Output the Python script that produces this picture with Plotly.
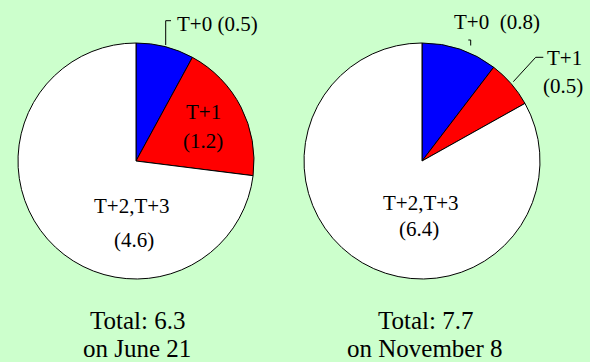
import plotly.graph_objects as go

# Share of settlement volume by settlement cycle (two survey dates)
categories = ["T+0", "T+1", "T+2,T+3"]
june_values = [0.5, 1.2, 4.6]
november_values = [0.8, 0.5, 6.4]
june_total = 6.3
november_total = 7.7
dates = ["June 21", "November 8"]
slice_colors = ["#0000ff", "#ff0000", "#ffffff"]

W, H = 590, 362
BG = "#ccffcc"
FONT = "Times New Roman, Liberation Serif, serif"


def px(x):
    return x / W


def py(y):
    return 1 - y / H


fig = go.Figure()

pie_boxes = [
    (18, 254, 43, 279),     # left pie, pixel box
    (303.5, 540.5, 43, 279),  # right pie, pixel box
]
for vals, (x0, x1, y0, y1) in zip([june_values, november_values], pie_boxes):
    fig.add_trace(go.Pie(
        labels=categories,
        values=vals,
        sort=False,
        direction="clockwise",
        rotation=0,
        textinfo="none",
        hoverinfo="label+value",
        marker=dict(colors=slice_colors, line=dict(color="black", width=1)),
        domain=dict(x=[px(x0), px(x1)], y=[py(y1), py(y0)]),
        showlegend=False,
    ))

annotations = []


def label(text, x, y, size=21, xanchor="center"):
    annotations.append(dict(
        text=text, x=px(x), y=py(y), xref="paper", yref="paper",
        xanchor=xanchor, yanchor="middle", showarrow=False,
        font=dict(family=FONT, size=size, color="black"),
    ))


def fmt(v):
    return f"({v:.1f})"


# June 21 pie labels
label(f"{categories[0]} {fmt(june_values[0])}", 175.5, 24, xanchor="left")
label(categories[1], 203, 112)
label(fmt(june_values[1]), 203, 141)
label(categories[2], 131.5, 206)
label(fmt(june_values[2]), 133.5, 240)

# November 8 pie labels
label(f"{categories[0]}\u00a0 {fmt(november_values[0])}", 452, 22, xanchor="left")
label(categories[1], 564, 58)
label(fmt(november_values[1]), 563, 86)
label(categories[2], 420.5, 203)
label(fmt(november_values[2]), 419, 229)

# Totals under each pie
for cx, total, date in zip([137, 425], [june_total, november_total], dates):
    label(f"Total: {total:.1f}", cx, 320, size=25)
    label(f"on {date}", cx, 348, size=25)

# Leader lines for the small slices
leaders = [
    [(165.7, 45), (165.7, 20.7), (171, 20.7)],
    [(470.7, 45.5), (470.7, 40), (468.3, 40)],
    [(513.3, 81.7), (535.7, 57.3), (543.3, 57.3)],
]
shapes = []
for pts in leaders:
    path = "M " + " L ".join(f"{px(x)},{py(y)}" for x, y in pts)
    shapes.append(dict(type="path", path=path, xref="paper", yref="paper",
                       line=dict(color="black", width=1)))

fig.update_layout(
    width=W, height=H,
    margin=dict(l=0, r=0, t=0, b=0),
    paper_bgcolor=BG, plot_bgcolor=BG,
    annotations=annotations,
    shapes=shapes,
)

fig.write_html("out.html")
